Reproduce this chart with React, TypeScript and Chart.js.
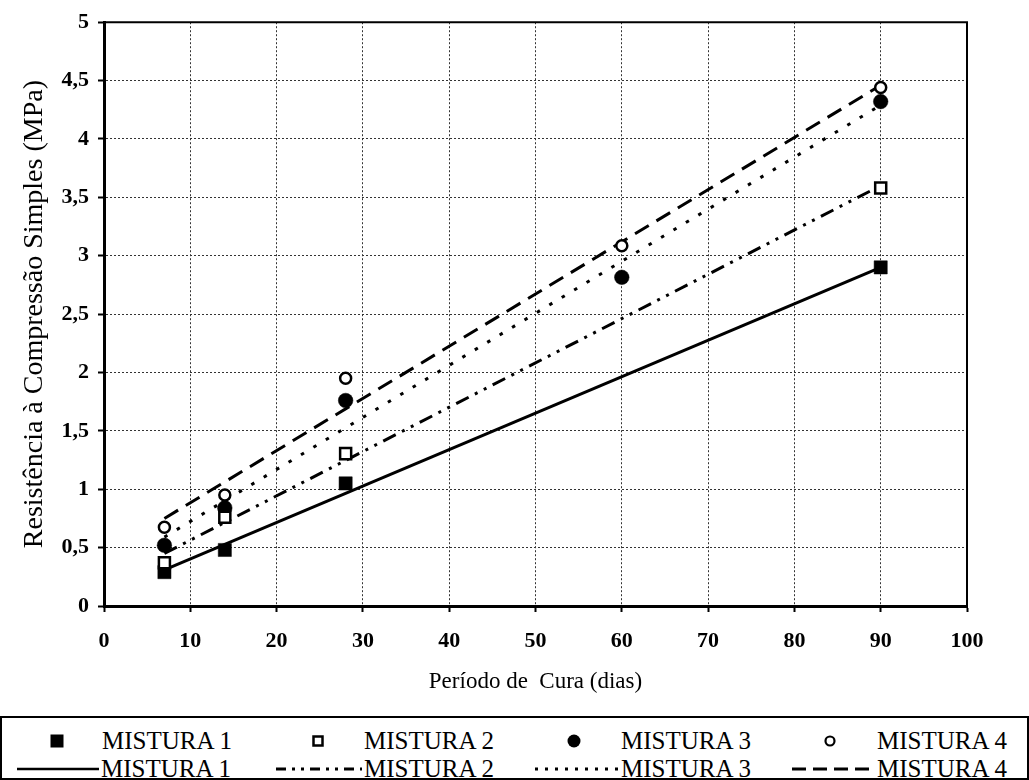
import React, { useEffect, useRef } from 'react';
import { Chart, registerables } from 'chart.js';

Chart.register(...registerables);

// ---- data ----
const curingDays = [7, 14, 28, 60, 90];
const mistura1 = [0.29, 0.48, 1.05, null, 2.9];
const mistura2 = [0.37, 0.76, 1.305, null, 3.58];
const mistura3 = [0.52, 0.84, 1.76, 2.815, 4.32];
const mistura4 = [0.675, 0.95, 1.95, 3.085, 4.44];

const trendDays = [7, 90];
const trend1 = [0.31, 2.9];
const trend2 = [0.45, 3.6];
const trend3 = [0.59, 4.29];
const trend4 = [0.75, 4.46];

const xTickLabels = ['0', '10', '20', '30', '40', '50', '60', '70', '80', '90', '100'];
const yTickLabels = ['0', '0,5', '1', '1,5', '2', '2,5', '3', '3,5', '4', '4,5', '5'];

const seriesNames = ['MISTURA 1', 'MISTURA 2', 'MISTURA 3', 'MISTURA 4'];

const FONT = 'Liberation Serif, DejaVu Serif, serif';

function toPoints(xs: number[], ys: (number | null)[]) {
  const out: { x: number; y: number }[] = [];
  xs.forEach((x, i) => {
    const y = ys[i];
    if (y !== null && y !== undefined) out.push({ x, y });
  });
  return out;
}

const framePlugin = {
  id: 'frame',
  beforeDatasetsDraw(chart: any) {
    const { ctx, chartArea } = chart;
    const { left, top, right, bottom } = chartArea;
    ctx.save();
    ctx.strokeStyle = '#000';
    ctx.lineWidth = 2;
    ctx.beginPath();
    ctx.moveTo(left, top);
    ctx.lineTo(right, top);
    ctx.lineTo(right, bottom);
    ctx.stroke();
    ctx.restore();
  },
};

function ChartCanvas() {
  const ref = useRef<HTMLCanvasElement | null>(null);
  useEffect(() => {
    if (!ref.current) return;
    const lineBase = {
      showLine: true,
      pointRadius: 0,
      pointHoverRadius: 0,
      borderColor: '#000',
      borderWidth: 3,
      fill: false,
      tension: 0,
    };
    const chart = new Chart(ref.current, {
      type: 'scatter',
      data: {
        datasets: [
          {
            label: seriesNames[1],
            data: toPoints(curingDays, mistura2),
            pointStyle: 'rect',
            pointRadius: 7.8,
            backgroundColor: '#fff',
            borderColor: '#000',
            borderWidth: 2.5,
          },
          {
            label: seriesNames[3],
            data: toPoints(curingDays, mistura4),
            pointStyle: 'circle',
            pointRadius: 5.5,
            backgroundColor: '#fff',
            borderColor: '#000',
            borderWidth: 2.5,
          },
          {
            label: seriesNames[0],
            data: toPoints(curingDays, mistura1),
            pointStyle: 'rect',
            pointRadius: 9.3,
            backgroundColor: '#000',
            borderColor: '#000',
            borderWidth: 0.5,
          },
          {
            label: seriesNames[2],
            data: toPoints(curingDays, mistura3),
            pointStyle: 'circle',
            pointRadius: 7.3,
            backgroundColor: '#000',
            borderColor: '#000',
            borderWidth: 0.5,
          },
          { ...lineBase, label: seriesNames[0] + ' ajuste', data: toPoints(trendDays, trend1) },
          {
            ...lineBase,
            label: seriesNames[1] + ' ajuste',
            data: toPoints(trendDays, trend2),
            borderDash: [14, 7, 3, 7, 3, 7],
          },
          {
            ...lineBase,
            label: seriesNames[2] + ' ajuste',
            data: toPoints(trendDays, trend3),
            borderDash: [3.5, 11],
          },
          {
            ...lineBase,
            label: seriesNames[3] + ' ajuste',
            data: toPoints(trendDays, trend4),
            borderDash: [16, 9],
          },
        ],
      },
      options: {
        animation: false,
        responsive: false,
        maintainAspectRatio: false,
        events: [],
        layout: { padding: { left: 0, top: 21, right: 62, bottom: 0 } },
        plugins: {
          legend: { display: false },
          tooltip: { enabled: false },
        },
        scales: {
          x: {
            type: 'linear',
            min: 0,
            max: 100,
            afterFit: (s: any) => {
              s.height = 94;
            },
            ticks: {
              stepSize: 10,
              color: '#000',
              padding: 16,
              maxRotation: 0,
              font: { family: FONT, size: 22, weight: 'bold' },
              callback: (_v: any, i: number) => xTickLabels[i],
            },
            grid: {
              color: (c: any) =>
                c.tick && (c.tick.value === 0 || c.tick.value === 100) ? 'rgba(0,0,0,0)' : '#333',
              lineWidth: 1,
              tickLength: 6,
              tickColor: '#000',
              tickWidth: 2,
              tickBorderDash: [],
            },
            border: { display: true, color: '#000', width: 3, dash: [2, 2] },
            title: {
              display: true,
              text: 'Período de  Cura (dias)',
              color: '#000',
              font: { family: FONT, size: 23 },
              padding: { top: 0, bottom: 4 },
            },
          },
          y: {
            type: 'linear',
            min: 0,
            max: 5,
            afterFit: (s: any) => {
              s.width = 104;
            },
            ticks: {
              stepSize: 0.5,
              color: '#000',
              padding: 9,
              font: { family: FONT, size: 22, weight: 'bold' },
              callback: (_v: any, i: number) => yTickLabels[i],
            },
            grid: {
              color: (c: any) =>
                c.tick && (c.tick.value === 0 || c.tick.value === 5) ? 'rgba(0,0,0,0)' : '#333',
              lineWidth: 1,
              tickLength: 6,
              tickColor: '#000',
              tickWidth: 2,
              tickBorderDash: [],
            },
            border: { display: true, color: '#000', width: 3, dash: [2, 2] },
            title: {
              display: true,
              text: 'Resistência à Compressão Simples (MPa)',
              color: '#000',
              font: { family: FONT, size: 28 },
              padding: { top: 18, bottom: 0 },
            },
          },
        },
      },
      plugins: [framePlugin],
    } as any);
    return () => chart.destroy();
  }, []);
  return <canvas ref={ref} width={1029} height={700} style={{ display: 'block', width: 1029, height: 700 }} />;
}

function MarkerIcon({ kind }: { kind: number }) {
  return (
    <svg width={16} height={16} viewBox="0 0 16 16" style={{ display: 'block' }}>
      {kind === 0 && <rect x={1.5} y={1.5} width={13} height={13} fill="#000" />}
      {kind === 1 && <rect x={3.5} y={3.5} width={9} height={9} fill="#fff" stroke="#000" strokeWidth={2.5} />}
      {kind === 2 && <circle cx={8} cy={8} r={6.5} fill="#000" />}
      {kind === 3 && <circle cx={8} cy={8} r={4.5} fill="#fff" stroke="#000" strokeWidth={2.2} />}
    </svg>
  );
}

const legendDashes = ['', '10 6 3 6 3 6', '3 7', '14 7'];

function LineIcon({ kind, width }: { kind: number; width: number }) {
  return (
    <svg width={width} height={8} style={{ display: 'block' }}>
      <line
        x1={0}
        y1={4}
        x2={width}
        y2={4}
        stroke="#000"
        strokeWidth={kind === 0 ? 2.5 : 3}
        strokeDasharray={legendDashes[kind] || undefined}
      />
    </svg>
  );
}

const markerCenters = [55, 316, 572, 828];
const textLefts = [100, 362, 619, 875];
const lineSpans = [
  [15, 97],
  [274, 360],
  [533, 616],
  [790, 873],
];

function Legend() {
  const textStyle: React.CSSProperties = {
    position: 'absolute',
    fontFamily: FONT,
    fontSize: 25,
    lineHeight: '26px',
    color: '#000',
    whiteSpace: 'nowrap',
  };
  const row1 = 740 - 717;
  const row2 = 768 - 717;
  return (
    <div
      style={{
        position: 'absolute',
        left: 0,
        top: 716,
        width: 1029,
        height: 64,
        boxSizing: 'border-box',
        borderTop: '2px solid #000',
        borderLeft: '2px solid #000',
        borderRight: '2px solid #000',
        borderBottom: '2px solid #000',
      }}
    >
      {seriesNames.map((name, i) => (
        <React.Fragment key={'m' + i}>
          <div style={{ position: 'absolute', left: markerCenters[i] - 8, top: row1 - 8 }}>
            <MarkerIcon kind={i} />
          </div>
          <div style={{ ...textStyle, left: textLefts[i], top: row1 - 13 }}>{name}</div>
          <div style={{ position: 'absolute', left: lineSpans[i][0], top: row2 - 4 }}>
            <LineIcon kind={i} width={lineSpans[i][1] - lineSpans[i][0]} />
          </div>
          <div style={{ ...textStyle, left: textLefts[i] + (i === 0 ? -1 : 0), top: row2 - 13 }}>{name}</div>
        </React.Fragment>
      ))}
    </div>
  );
}

export default function App() {
  return (
    <div
      style={{
        position: 'fixed',
        left: 0,
        top: 0,
        width: 1029,
        height: 780,
        background: '#fff',
        overflow: 'hidden',
      }}
    >
      <ChartCanvas />
      <Legend />
    </div>
  );
}
